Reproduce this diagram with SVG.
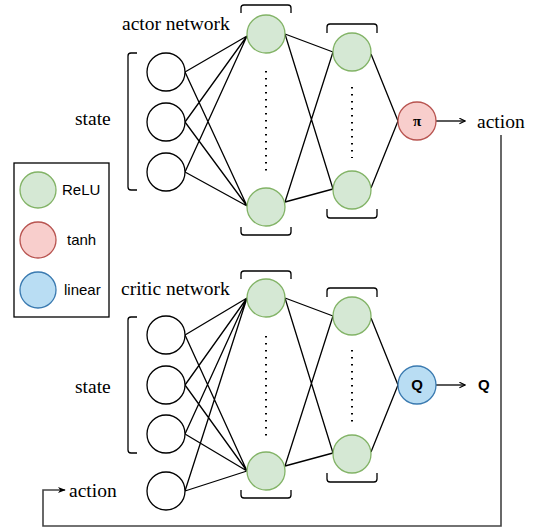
<svg xmlns="http://www.w3.org/2000/svg" width="536" height="528" viewBox="0 0 536 528">
<style>
.in{fill:#fff;stroke:#000;stroke-width:1.3}
.relu{fill:#d5e8d4;stroke:#82b366;stroke-width:1.3}
.tanh{fill:#f8cecc;stroke:#b85450;stroke-width:1.3}
.lin{fill:#b9ddf3;stroke:#3a7ab0;stroke-width:1.3}
.ln{stroke:#000;stroke-width:1.3;fill:none}
.br{stroke:#000;stroke-width:1.3;fill:none}
.dots{stroke:#000;stroke-width:2;stroke-dasharray:1.6 5.4;fill:none}
.serif{font-family:"Liberation Serif","Times New Roman",serif;font-size:19.5px;fill:#000}
.sans{font-family:"Liberation Sans",Arial,sans-serif;font-size:15px;fill:#000}
.bold{font-family:"Liberation Sans",Arial,sans-serif;font-size:15px;font-weight:bold;fill:#000}
</style>
<defs>
<marker id="arr" viewBox="0 0 10 10" refX="9" refY="5" markerWidth="7" markerHeight="7" orient="auto" markerUnits="userSpaceOnUse">
<path d="M1,1 L9,5 L1,9" fill="none" stroke="#000" stroke-width="1.6"/>
</marker>
<marker id="arrf" viewBox="0 0 10 10" refX="9" refY="5" markerWidth="8" markerHeight="8" orient="auto" markerUnits="userSpaceOnUse">
<path d="M0,1 L10,5 L0,9 L3,5 Z" fill="#000"/>
</marker>
</defs>

<g id="connectors">
<path class="ln" d="M185,72 L247,36 M185,122 L247,36 M185,172 L247,36 M185,72 L247,206 M185,122 L247,206 M185,172 L247,206"/>
<path class="ln" d="M285,34 L333,52 M285,34 L333,189 M285,202 L333,52 M285,202 L333,189"/>
<path class="ln" d="M371,54 L398,121 M371,188 L398,121"/>
<path class="ln" d="M436,121 L465,121" marker-end="url(#arr)"/>
<path class="ln" d="M185,335 L247,298 M185,385 L247,298 M185,434 L247,298 M185,491 L247,298 M185,335 L247,471 M185,385 L247,471 M185,434 L247,471 M185,491 L247,471"/>
<path class="ln" d="M285,298 L333,316 M285,298 L333,453 M285,466 L333,316 M285,466 L333,453"/>
<path class="ln" d="M371,318 L398,385 M371,452 L398,385"/>
<path class="ln" d="M436,385 L465,385" marker-end="url(#arr)"/>
<path d="M501,135 L501,526 L43,526 L43,490 L65,490" fill="none" stroke="#444" stroke-width="1.6" marker-end="url(#arrf)"/>
</g>

<g id="legend">
<rect x="14" y="163" width="95" height="154" fill="#fff" stroke="#000" stroke-width="1.3"/>
<circle class="relu" cx="38" cy="190" r="18"/>
<text class="sans" x="62" y="195">ReLU</text>
<circle class="tanh" cx="38" cy="240" r="18"/>
<text class="sans" x="67" y="245">tanh</text>
<circle class="lin" cx="38" cy="290" r="18"/>
<text class="sans" x="64" y="295">linear</text>
</g>

<g id="actor">
<text class="serif" x="122" y="30">actor network</text>
<text class="serif" x="75" y="125">state</text>
<path class="br" d="M137,53 L131,53 Q128,53 128,56 L128,187 Q128,190 131,190 L137,190"/>
<g id="a_in1"><circle class="in" cx="166" cy="72" r="19"/></g>
<g id="a_in2"><circle class="in" cx="166" cy="122" r="19"/></g>
<g id="a_in3"><circle class="in" cx="166" cy="172" r="19"/></g>
<path class="br" d="M241,13 L241,8 Q241,5 244,5 L288,5 Q291,5 291,8 L291,13"/>
<path class="br" d="M241,227 L241,232 Q241,235 244,235 L288,235 Q291,235 291,232 L291,227"/>
<g id="a_h1a"><circle class="relu" cx="266" cy="34" r="19"/></g>
<g id="a_h1b"><circle class="relu" cx="266" cy="207" r="19"/></g>
<path class="dots" d="M266,71 L266,176"/>
<path class="br" d="M327,33 L327,27 Q327,24 330,24 L374,24 Q377,24 377,27 L377,33"/>
<path class="br" d="M327,209 L327,215 Q327,218 330,218 L374,218 Q377,218 377,215 L377,209"/>
<g id="a_h2a"><circle class="relu" cx="352" cy="52" r="19"/></g>
<g id="a_h2b"><circle class="relu" cx="352" cy="190" r="19"/></g>
<path class="dots" d="M352,87 L352,158"/>
<g id="a_out"><circle class="tanh" cx="417" cy="121" r="19"/>
<text x="417" y="126" text-anchor="middle" font-family="Liberation Serif,serif" font-size="15" font-weight="bold">π</text></g>
<text class="serif" x="477" y="128">action</text>
</g>

<g id="critic">
<text class="serif" x="121" y="295">critic network</text>
<text class="serif" x="75" y="393">state</text>
<path class="br" d="M137,317 L131,317 Q128,317 128,320 L128,450 Q128,453 131,453 L137,453"/>
<g id="c_in1"><circle class="in" cx="166" cy="335" r="19"/></g>
<g id="c_in2"><circle class="in" cx="166" cy="385" r="19"/></g>
<g id="c_in3"><circle class="in" cx="166" cy="434" r="19"/></g>
<g id="c_in4"><circle class="in" cx="166" cy="491" r="19"/></g>
<text class="serif" x="69" y="497">action</text>
<path class="br" d="M241,279 L241,274 Q241,271 244,271 L288,271 Q291,271 291,274 L291,279"/>
<path class="br" d="M241,490 L241,495 Q241,498 244,498 L288,498 Q291,498 291,495 L291,490"/>
<g id="c_h1a"><circle class="relu" cx="266" cy="298" r="19"/></g>
<g id="c_h1b"><circle class="relu" cx="266" cy="471" r="19"/></g>
<path class="dots" d="M266,336 L266,439"/>
<path class="br" d="M327,297 L327,291 Q327,288 330,288 L374,288 Q377,288 377,291 L377,297"/>
<path class="br" d="M327,473 L327,479 Q327,482 330,482 L374,482 Q377,482 377,479 L377,473"/>
<g id="c_h2a"><circle class="relu" cx="352" cy="316" r="19"/></g>
<g id="c_h2b"><circle class="relu" cx="352" cy="454" r="19"/></g>
<path class="dots" d="M352,350 L352,423"/>
<g id="c_out"><circle class="lin" cx="417" cy="385" r="19"/>
<text class="bold" x="417" y="390" text-anchor="middle">Q</text></g>
<text class="bold" x="478" y="390">Q</text>
</g>
</svg>
